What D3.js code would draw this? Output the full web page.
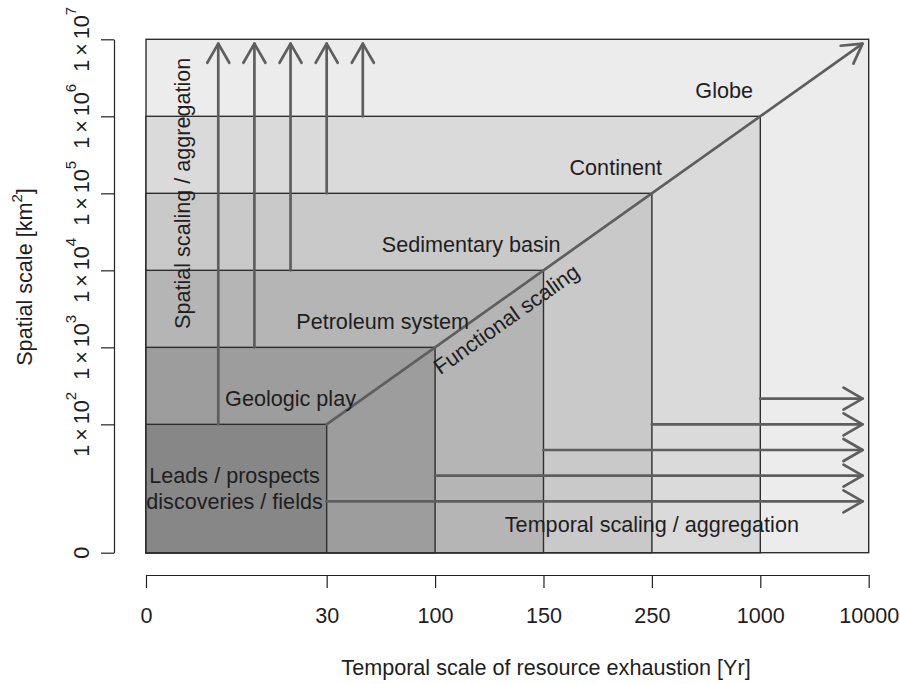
<!DOCTYPE html>
<html>
<head>
<meta charset="utf-8">
<script src="https://cdn.jsdelivr.net/npm/d3@7/dist/d3.min.js"></script>
<style>
  html, body { margin: 0; padding: 0; background: #ffffff; }
  svg { display: block; }
</style>
</head>
<body>
<svg id="chart" width="900" height="684"></svg>
<script>
// Nested scale levels: each box spans [0, extent] on both the temporal and spatial axes
const levels = ["Leads / prospects|discoveries / fields", "Geologic play", "Petroleum system",
                "Sedimentary basin", "Continent", "Globe"];
const levelExtent = [5, 8, 11, 14, 17, 20];

// Axis breakpoints (axis units) and their labels
const xTickValues = [0, 5, 8, 11, 14, 17, 20];
const xTickLabels = ["0", "30", "100", "150", "250", "1000", "10000"];
const yTickValues = [0, 5, 8, 11, 14, 17, 20];
const yTickExponents = [null, 2, 3, 4, 5, 6, 7];

// Aggregation arrows
const spatialArrowX = [2, 3, 4, 5, 6];        // vertical arrows, start at levelExtent[i]
const temporalArrowY = [2, 3, 4, 5, 6];       // horizontal arrows, start at levelExtent[i]
const arrowEnd = 19.83;

// Label anchors (axis units) for each level name
const levelLabelX = [2.45, 4, 6.55, 9, 13, 16];
const levelLabelY = [2.5, 6, 9, 12, 15, 18];

const fills = ["#878787", "#9d9d9d", "#b5b5b5", "#c9c9c9", "#dadada", "#ececec"];
const font = '"Liberation Sans", Arial, Helvetica, sans-serif';
const fs = 21.6;
const arrowColor = "#5e5e5e";

const svg = d3.select("#chart");
const x = d3.scaleLinear().domain([0, 20]).range([146, 868.7]);
const y = d3.scaleLinear().domain([0, 20]).range([552.7, 39.3]);
const fillOf = d3.scaleOrdinal(levels, fills);

// Boxes, largest first
const boxes = levels.map((name, i) => ({ name, ext: levelExtent[i] })).reverse();
svg.append("g").selectAll("rect").data(boxes).join("rect")
  .attr("x", x(0))
  .attr("y", d => y(d.ext))
  .attr("width", d => x(d.ext) - x(0))
  .attr("height", d => y(0) - y(d.ext))
  .attr("fill", d => fillOf(d.name))
  .attr("stroke", "#2e2e2e")
  .attr("stroke-width", 1.4);

// Arrows
const gA = svg.append("g")
  .attr("stroke", arrowColor)
  .attr("stroke-width", 2.7)
  .attr("stroke-linecap", "round")
  .attr("fill", "none");

function arrow(x0, y0, x1, y1) {
  const px0 = x(x0), py0 = y(y0), px1 = x(x1), py1 = y(y1);
  gA.append("line").attr("x1", px0).attr("y1", py0).attr("x2", px1).attr("y2", py1);
  const ang = Math.atan2(py1 - py0, px1 - px0);
  const len = 22, spread = Math.PI / 6;
  const pts = [ang + Math.PI - spread, ang + Math.PI + spread].map(a => [px1 + len * Math.cos(a), py1 + len * Math.sin(a)]);
  gA.append("path").attr("d", `M${pts[0][0]},${pts[0][1]}L${px1},${py1}L${pts[1][0]},${pts[1][1]}`)
    .attr("stroke-linejoin", "round");
}

spatialArrowX.forEach((v, i) => arrow(v, levelExtent[i], v, arrowEnd));
temporalArrowY.forEach((v, i) => arrow(levelExtent[i], v, arrowEnd, v));
arrow(levelExtent[0], levelExtent[0], arrowEnd, arrowEnd);

// Text
const gT = svg.append("g").attr("font-family", font).attr("font-size", fs).attr("fill", "#1e1e1e");

levels.forEach((name, i) => {
  const lines = name.split("|");
  if (lines.length === 1) {
    gT.append("text").attr("x", x(levelLabelX[i])).attr("y", y(levelLabelY[i]))
      .attr("dy", "0.35em").attr("text-anchor", "middle").text(name);
  } else {
    lines.forEach((ln, j) => {
      gT.append("text").attr("x", x(levelLabelX[i])).attr("y", y(3 - j))
        .attr("dy", "0.35em").attr("text-anchor", "middle").text(ln);
    });
  }
});

gT.append("text").attr("x", x(14)).attr("y", y(1.1)).attr("dy", "0.35em")
  .attr("text-anchor", "middle").text("Temporal scaling / aggregation");

gT.append("text").attr("transform", `translate(${x(1)},${y(14)}) rotate(-90)`)
  .attr("dy", "0.35em").attr("text-anchor", "middle").text("Spatial scaling / aggregation");

const diagAngle = Math.atan2(y(20) - y(5), x(20) - x(5)) * 180 / Math.PI;
gT.append("text").attr("transform", `translate(${x(9.97)},${y(9.1)}) rotate(${diagAngle})`)
  .attr("dy", "0.35em").attr("text-anchor", "middle").text("Functional scaling");

// X axis
const gx = svg.append("g").attr("transform", "translate(0,575)");
gx.call(d3.axisBottom(x).tickValues(xTickValues).tickFormat((d, i) => xTickLabels[i]).tickSize(13).tickSizeOuter(0));
gx.select(".domain").attr("stroke", "#222").attr("stroke-width", 1.2);
gx.selectAll(".tick line").attr("stroke", "#222").attr("stroke-width", 1.2);
gx.selectAll(".tick text").attr("font-family", font).attr("font-size", fs).attr("fill", "#1e1e1e")
  .attr("y", 48).attr("dy", 0);

svg.append("text").attr("x", 546).attr("y", 675).attr("text-anchor", "middle")
  .attr("font-family", font).attr("font-size", fs).attr("fill", "#1e1e1e")
  .text("Temporal scale of resource exhaustion [Yr]");

// Y axis
const gy = svg.append("g").attr("transform", "translate(114,0)");
gy.call(d3.axisLeft(y).tickValues(yTickValues).tickFormat("").tickSize(13).tickSizeOuter(0));
gy.select(".domain").attr("stroke", "#222").attr("stroke-width", 1.2);
gy.selectAll(".tick line").attr("stroke", "#222").attr("stroke-width", 1.2);

yTickValues.forEach((v, i) => {
  const t = svg.append("text")
    .attr("transform", `translate(89,${y(v)}) rotate(-90)`)
    .attr("text-anchor", "middle")
    .attr("font-family", font).attr("font-size", fs).attr("fill", "#1e1e1e");
  const e = yTickExponents[i];
  if (e === null) {
    t.text("0");
  } else {
    t.append("tspan").text("1");
    t.append("tspan").attr("dx", 4).text("\u00d7");
    t.append("tspan").attr("dx", 4).text("10");
    t.append("tspan").attr("dy", -13).attr("font-size", 15).text(String(e));
  }
});

const yt = svg.append("text")
  .attr("transform", `translate(32,277) rotate(-90)`)
  .attr("text-anchor", "middle")
  .attr("font-family", font).attr("font-size", fs).attr("fill", "#1e1e1e");
yt.append("tspan").text("Spatial scale [km");
yt.append("tspan").attr("dy", -10).attr("font-size", 15).text("2");
yt.append("tspan").attr("dy", 10).text("]");
</script>
</body>
</html>
